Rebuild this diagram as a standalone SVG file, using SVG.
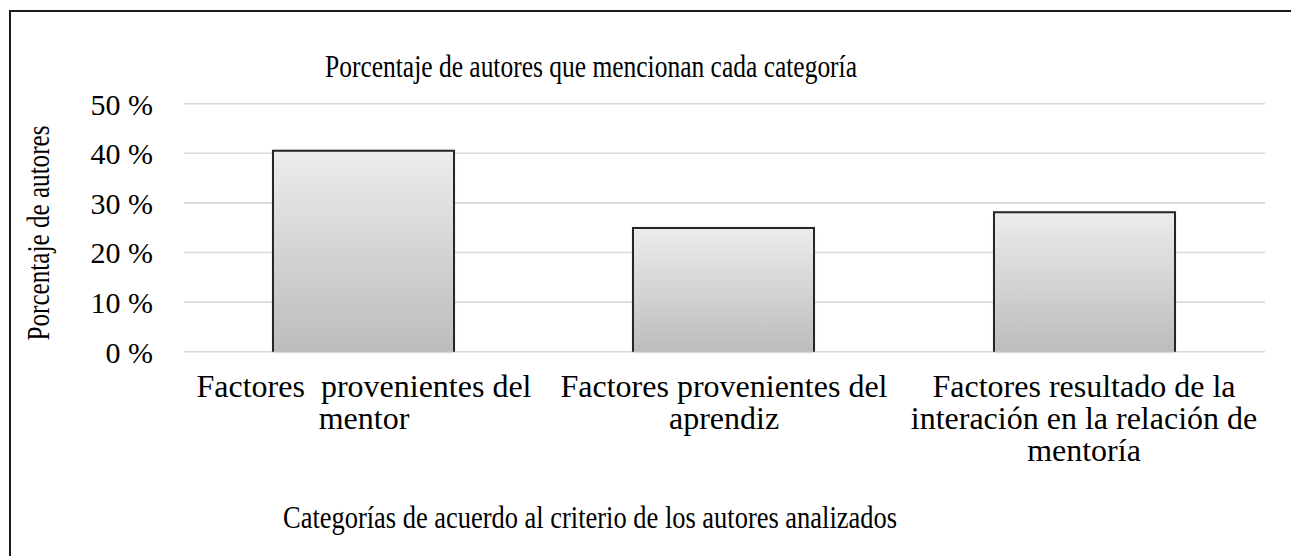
<svg xmlns="http://www.w3.org/2000/svg" width="1291" height="556" viewBox="0 0 1291 556">
<style>
  text { font-family: "Liberation Serif", "Times New Roman", serif; fill: #000; }
  .title { font-size: 31px; text-anchor: middle; }
  .tick { font-size: 30px; text-anchor: end; }
  .cat { font-size: 32px; text-anchor: middle; white-space: pre; }
  .axt { font-size: 31px; text-anchor: middle; }
  .grid line { stroke: #d9d9d9; stroke-width: 1.6; }
  .bar rect { fill: url(#barGrad); filter: url(#shadow); }
  .bar path { fill: none; stroke: #262626; stroke-width: 2; }
</style>
<defs>
  <linearGradient id="barGrad" x1="0" y1="0" x2="0" y2="1">
    <stop offset="0" stop-color="#ececec"/>
    <stop offset="1" stop-color="#bcbcbc"/>
  </linearGradient>
  <filter id="shadow" x="-10%" y="-10%" width="120%" height="120%">
    <feGaussianBlur in="SourceAlpha" stdDeviation="1.5"/>
    <feComponentTransfer><feFuncA type="linear" slope="0.25"/></feComponentTransfer>
    <feMerge><feMergeNode/><feMergeNode in="SourceGraphic"/></feMerge>
  </filter>
</defs>
<rect x="0" y="0" width="1291" height="556" fill="#ffffff"/>
<rect id="frame" x="10" y="11" width="1400" height="700" fill="none" stroke="#1a1a1a" stroke-width="2"/>
<text id="title" class="title" x="591" y="77" textLength="532" lengthAdjust="spacingAndGlyphs">Porcentaje de autores que mencionan cada categoría</text>
<g id="grid" class="grid">
  <line x1="184" y1="103.7" x2="1265" y2="103.7"/>
  <line x1="184" y1="153.3" x2="1265" y2="153.3"/>
  <line x1="184" y1="202.9" x2="1265" y2="202.9"/>
  <line x1="184" y1="252.5" x2="1265" y2="252.5"/>
  <line x1="184" y1="302.1" x2="1265" y2="302.1"/>
  <line x1="184" y1="351.7" x2="1265" y2="351.7"/>
</g>
<g id="yticks">
  <text class="tick" x="153" y="114.5">50 %</text>
  <text class="tick" x="153" y="164.1">40 %</text>
  <text class="tick" x="153" y="213.7">30 %</text>
  <text class="tick" x="153" y="263.3">20 %</text>
  <text class="tick" x="153" y="312.9">10 %</text>
  <text class="tick" x="153" y="362.5">0 %</text>
</g>
<text id="ytitle" class="axt" transform="translate(49,233) rotate(-90)" textLength="215" lengthAdjust="spacingAndGlyphs">Porcentaje de autores</text>
<g id="bar1" class="bar">
  <rect x="273" y="150.7" width="181" height="201"/>
  <path d="M273,351.7 V150.7 H454 V351.7"/>
</g>
<g id="bar2" class="bar">
  <rect x="633" y="228" width="181" height="123.7"/>
  <path d="M633,351.7 V228 H814 V351.7"/>
</g>
<g id="bar3" class="bar">
  <rect x="994" y="212.3" width="181" height="139.4"/>
  <path d="M994,351.7 V212.3 H1175 V351.7"/>
</g>
<g id="cat1">
  <text class="cat" x="364" y="397">Factores  provenientes del</text>
  <text class="cat" x="364" y="429">mentor</text>
</g>
<g id="cat2">
  <text class="cat" x="724" y="397">Factores provenientes del</text>
  <text class="cat" x="724" y="429">aprendiz</text>
</g>
<g id="cat3">
  <text class="cat" x="1084" y="397">Factores resultado de la</text>
  <text class="cat" x="1084" y="429">interación en la relación de</text>
  <text class="cat" x="1084" y="461">mentoría</text>
</g>
<text id="xtitle" class="axt" x="590" y="528" textLength="614" lengthAdjust="spacingAndGlyphs">Categorías de acuerdo al criterio de los autores analizados</text>
</svg>
